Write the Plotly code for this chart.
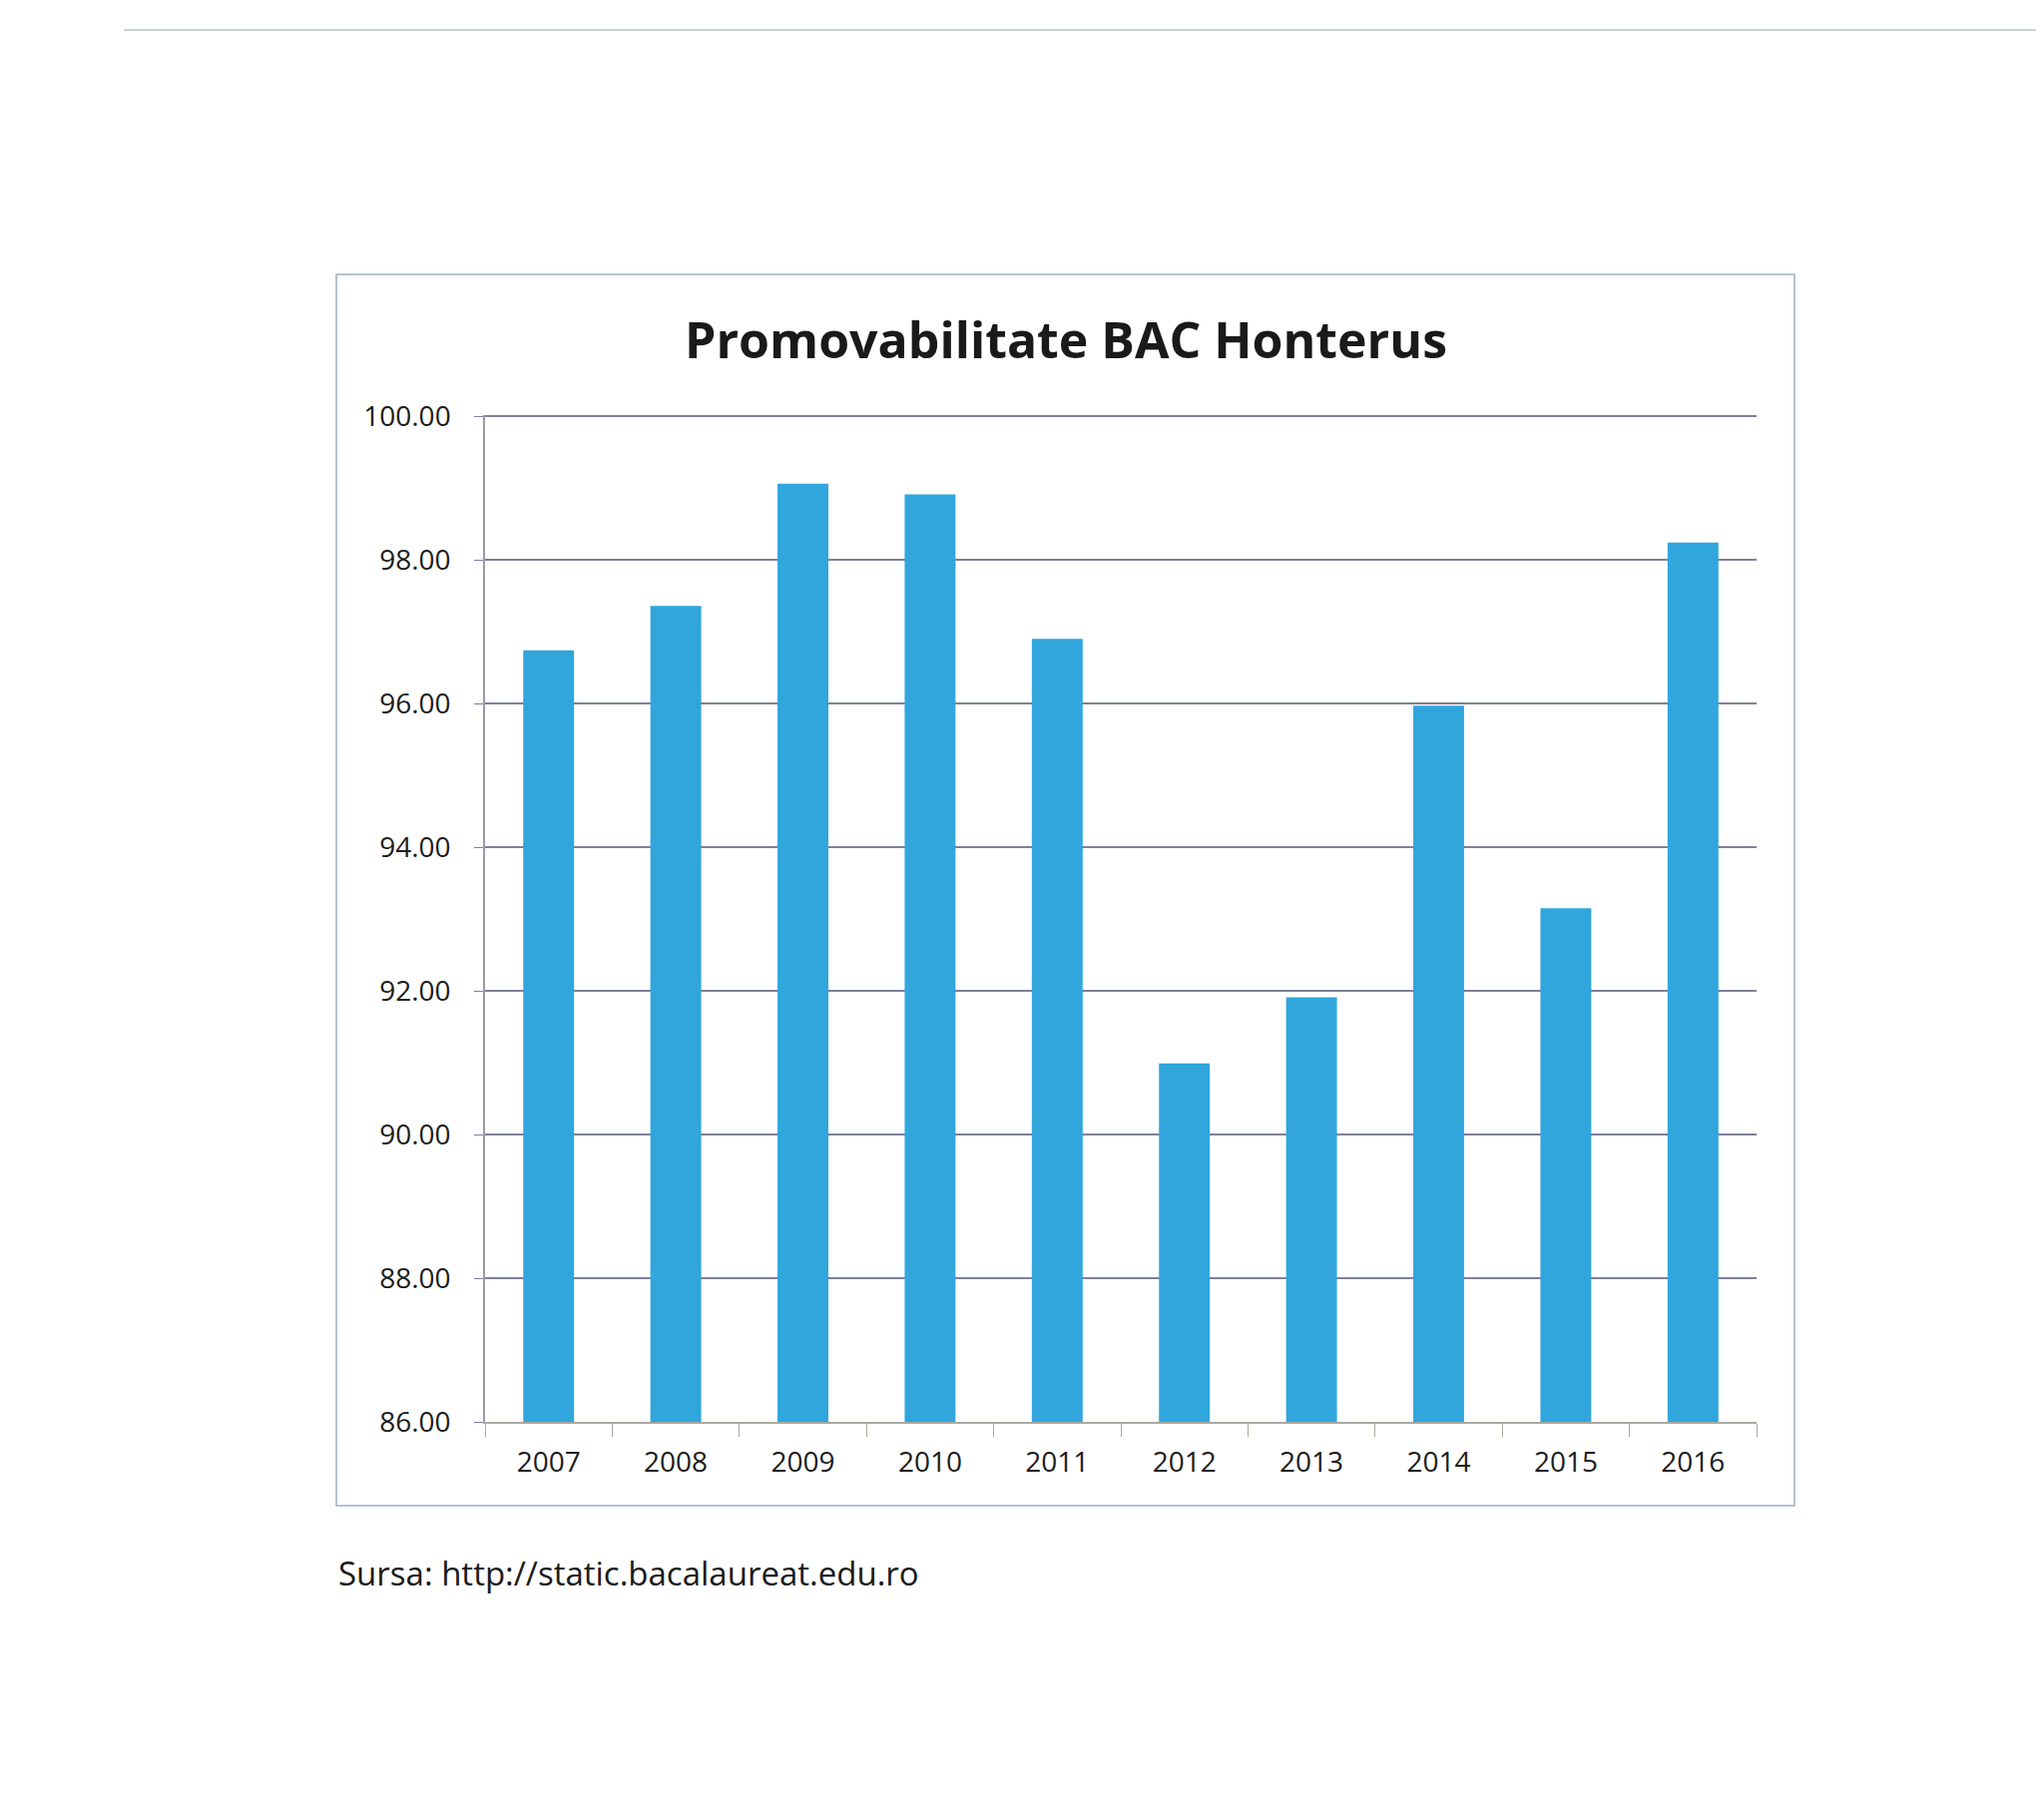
import plotly.graph_objects as go

years = ["2007", "2008", "2009", "2010", "2011", "2012", "2013", "2014", "2015", "2016"]
pass_rate = [96.74, 97.36, 99.06, 98.91, 96.90, 90.99, 91.91, 95.97, 93.15, 98.24]
y_ticks = [86, 88, 90, 92, 94, 96, 98, 100]

W, H = 2048, 1815
# plot area in pixels
L, R, T, B = 478, 1752, 408, 1417


def px(x):
    return (x - L) / (R - L)


def py(y):
    return (B - y) / (B - T)


fig = go.Figure(
    go.Bar(
        x=years,
        y=pass_rate,
        width=0.4,
        marker=dict(color="#31a6dd", line=dict(width=0)),
        hovertemplate="%{x}: %{y:.2f}<extra></extra>",
    )
)

fig.update_layout(
    width=W, height=H,
    margin=dict(l=L, r=W - R, t=T, b=H - B),
    paper_bgcolor="white", plot_bgcolor="white",
    showlegend=False,
    font=dict(family="Open Sans", color="#1c1c1c", size=28),
    title=dict(
        text="<b>Promovabilitate BAC Honterus</b>",
        x=1060 / W, xanchor="center",
        y=1 - 333 / H, yanchor="middle",
        font=dict(family="Open Sans", size=50, color="#1a1a1a"),
    ),
)

fig.update_yaxes(
    range=[86, 100.015],
    tickvals=y_ticks,
    tickformat=".2f",
    showgrid=True, gridcolor="#7d8099", gridwidth=1.5,
    showline=True, linecolor="#9a9aa8", linewidth=1.5,
    ticks="outside", ticklen=9, tickcolor="#7d8099",
    ticklabelstandoff=18,
    zeroline=False,
)
fig.update_xaxes(
    showline=True, linecolor="#a9a9a0", linewidth=2,
    ticks="outside", ticklen=13, tickcolor="#a9a9a0",
    tickson="boundaries",
    ticklabelstandoff=14,
    showgrid=False,
)

# outer chart border
fig.add_shape(
    type="rect", xref="paper", yref="paper",
    x0=px(329), x1=px(1790), y0=py(1501), y1=py(267),
    line=dict(color="#9fb0c0", width=1.5),
)
# thin rule at top of the page
fig.add_shape(
    type="line", xref="paper", yref="paper",
    x0=px(116), x1=px(2048), y0=py(22), y1=py(22),
    line=dict(color="#b8c0c6", width=1.5),
)

fig.add_annotation(
    text="Sursa: http://static.bacalaureat.edu.ro",
    xref="paper", yref="paper",
    x=px(329), y=py(1568), xanchor="left", yanchor="middle",
    showarrow=False,
    font=dict(family="Open Sans", size=33, color="#1a1a1a"),
)

fig.write_html("out.html")
